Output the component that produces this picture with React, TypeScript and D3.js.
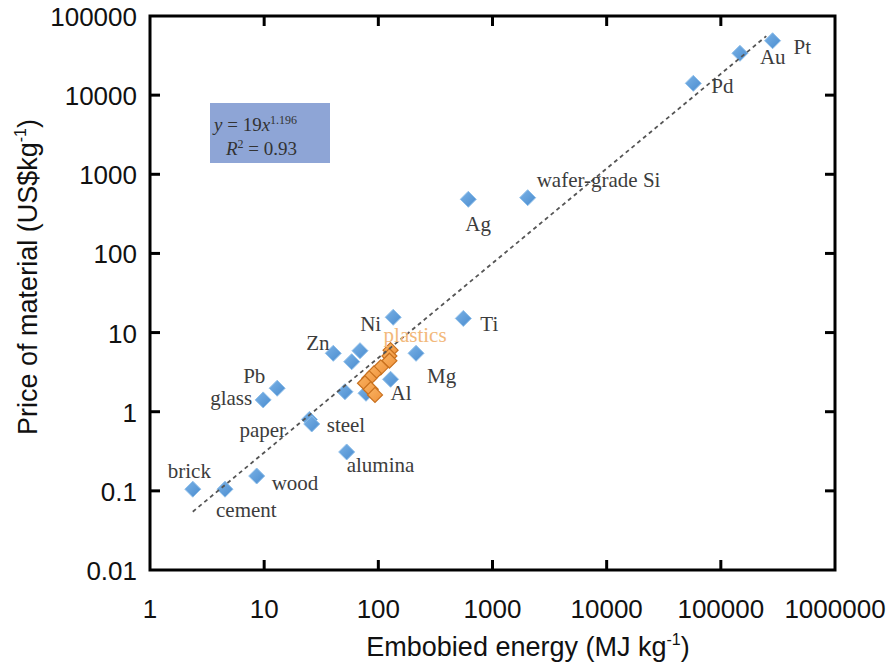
import React from "react";
import * as d3 from "d3";

// ---- data ----
const materials = ["brick", "cement", "wood", "paper", "steel", "glass", "Pb", "alumina", "", "Zn", "", "", "Ni", "Mg", "Al", "", "Ti", "Ag", "wafer-grade Si", "Pd", "Au", "Pt"];
const energy = [2.37, 4.54, 8.6, 24.9, 26.1, 9.8, 13.0, 52.8, 51.0, 40.3, 69.1, 58.4, 135, 214, 128, 78, 555, 614, 2033, 57400, 147000, 284000];
const price = [0.105, 0.105, 0.154, 0.8, 0.7, 1.41, 1.98, 0.31, 1.79, 5.47, 5.9, 4.28, 15.6, 5.47, 2.57, 1.71, 15.1, 483, 506, 14100, 33800, 48700];

const plasticsEnergy = [128, 125, 125, 105, 91.6, 83.3, 76.4, 85.7, 93.5];
const plasticsPrice = [6.0, 5.06, 4.41, 3.64, 3.05, 2.64, 2.29, 1.92, 1.63];

const trendEnergy = [2.37, 250000];
const trendPrice = [0.0545, 55600];

const xTicks = [1, 10, 100, 1000, 10000, 100000, 1000000];
const yTicks = [0.01, 0.1, 1, 10, 100, 1000, 10000, 100000];

// label layout offsets (pixels from the point), kept apart from the values
const labelOffsets: Record<string, [number, number]> = {
  brick: [-25, -11],
  cement: [-9, 28],
  wood: [15, 14],
  paper: [-70, 18],
  steel: [15, 8],
  glass: [-53, 5],
  Pb: [-34, -5],
  alumina: [0, 20],
  Zn: [-27, -3],
  Ni: [-33, 14],
  Mg: [11, 30],
  Al: [0, 21],
  Ti: [17, 13],
  Ag: [-3, 32],
  "wafer-grade Si": [9, -11],
  Pd: [18, 10],
  Au: [20, 11],
  Pt: [21, 13],
};

const W = 893;
const H = 666;
const L = 150, R = 835, T = 16, B = 570;

export default function App() {
  const x = d3.scaleLog().domain([1, 1000000]).range([L, R]);
  const y = d3.scaleLog().domain([0.01, 100000]).range([B, T]);
  const line = d3.line<[number, number]>().x((d) => x(d[0])).y((d) => y(d[1]));
  const trend: [number, number][] = trendEnergy.map((e, i) => [e, trendPrice[i]]);
  const diamond = (cx: number, cy: number, r: number) =>
    `M${cx},${cy - r}L${cx + r},${cy}L${cx},${cy + r}L${cx - r},${cy}Z`;
  const serif = "'Liberation Serif', 'Times New Roman', serif";
  const sans = "'Liberation Sans', Arial, sans-serif";
  const tickLen = 10;

  return (
    <svg width={W} height={H} style={{ position: "absolute", left: 0, top: 0, background: "#fff" }}>
      <defs>
        <linearGradient id="blueG" x1="0" y1="0" x2="1" y2="1">
          <stop offset="0" stopColor="#7ab2e6" />
          <stop offset="1" stopColor="#4a8ccf" />
        </linearGradient>
        <linearGradient id="orG" x1="0" y1="0" x2="1" y2="1">
          <stop offset="0" stopColor="#f9b464" />
          <stop offset="1" stopColor="#f0923a" />
        </linearGradient>
      </defs>
      {/* legend box */}
      <rect x={210} y={103} width={120} height={60} fill="#8ea5d6" />
      <text x={214} y={131} fontFamily={serif} fontSize={19} fill="#333">
        <tspan fontStyle="italic">y</tspan>
        <tspan> = 19</tspan>
        <tspan fontStyle="italic">x</tspan>
        <tspan fontSize={12} dy={-7}>1.196</tspan>
      </text>
      <text x={226} y={155} fontFamily={serif} fontSize={19} fill="#333">
        <tspan fontStyle="italic">R</tspan>
        <tspan fontSize={12} dy={-7}>2</tspan>
        <tspan dy={7}> = 0.93</tspan>
      </text>

      {/* blue points */}
      {energy.map((e, i) => (
        <path key={"b" + i} d={diamond(x(e), y(price[i]), 8)} fill="url(#blueG)" stroke="#8fbfea" strokeWidth={1} />
      ))}
      {/* plastics */}
      {plasticsEnergy.map((e, i) => (
        <path key={"o" + i} d={diamond(x(e), y(plasticsPrice[i]), 7.5)} fill="url(#orG)" stroke="#c8701e" strokeWidth={1.2} />
      ))}
      {/* trend line */}
      <path d={line(trend) || ""} fill="none" stroke="#555" strokeWidth={1.8} strokeDasharray="4,3.5" />

      {/* labels */}
      {materials.map((m, i) =>
        m ? (
          <text
            key={"l" + i}
            x={x(energy[i]) + labelOffsets[m][0]}
            y={y(price[i]) + labelOffsets[m][1]}
            fontFamily={serif}
            fontSize={21}
            fill="#3c3c3c"
          >
            {m}
          </text>
        ) : null
      )}
      <text x={x(plasticsEnergy[0]) - 7} y={y(plasticsPrice[0]) - 8} fontFamily={serif} fontSize={21} fill="#f2b87a">
        plastics
      </text>

      {/* frame */}
      <rect x={L} y={T} width={R - L} height={B - T} fill="none" stroke="#000" strokeWidth={3} />
      {xTicks.slice(1, -1).map((t) => (
        <g key={"xt" + t}>
          <line x1={x(t)} x2={x(t)} y1={B} y2={B - tickLen} stroke="#000" strokeWidth={3} />
          <line x1={x(t)} x2={x(t)} y1={T} y2={T + tickLen} stroke="#000" strokeWidth={3} />
        </g>
      ))}
      {yTicks.slice(1, -1).map((t) => (
        <g key={"yt" + t}>
          <line x1={L} x2={L + tickLen} y1={y(t)} y2={y(t)} stroke="#000" strokeWidth={3} />
          <line x1={R} x2={R - tickLen} y1={y(t)} y2={y(t)} stroke="#000" strokeWidth={3} />
        </g>
      ))}
      {/* tick labels */}
      {xTicks.map((t) => (
        <text key={"xl" + t} x={x(t)} y={618} textAnchor="middle" fontFamily={sans} fontSize={26} fill="#111">
          {String(t)}
        </text>
      ))}
      {yTicks.map((t) => (
        <text key={"yl" + t} x={137} y={y(t) + 10} textAnchor="end" fontFamily={sans} fontSize={26} fill="#111">
          {String(t)}
        </text>
      ))}
      {/* axis titles */}
      <text x={528} y={656} textAnchor="middle" fontFamily={sans} fontSize={27} fill="#111">
        Embobied energy (MJ kg<tspan fontSize={16} dy={-11}>-1</tspan>
        <tspan dy={11}>)</tspan>
      </text>
      <text transform="translate(37,277) rotate(-90)" textAnchor="middle" fontFamily={sans} fontSize={27} fill="#111">
        Price of material (US$kg<tspan fontSize={16} dy={-11}>-1</tspan>
        <tspan dy={11}>)</tspan>
      </text>
    </svg>
  );
}
